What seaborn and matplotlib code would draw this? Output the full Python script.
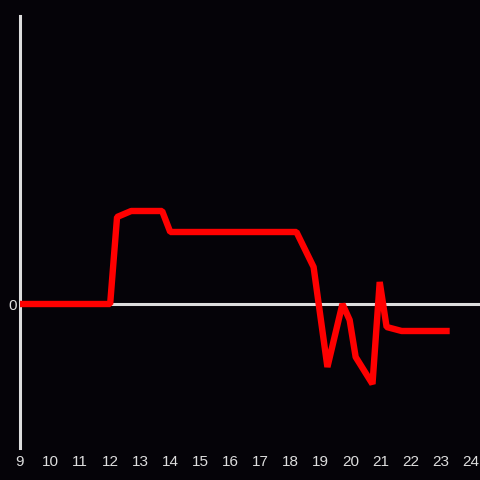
import matplotlib
matplotlib.use("Agg")
import matplotlib.pyplot as plt
import seaborn as sns

# values (x in hours, y in arbitrary units)
hours = [9.0, 12.0, 12.23, 12.7, 13.73, 14.0, 18.2, 18.77, 19.23, 19.73,
         19.97, 20.17, 20.73, 20.97, 21.2, 21.7, 23.3]
values = [0.0, 0.0, 0.87, 0.93, 0.93, 0.72, 0.72, 0.37, -0.63, 0.0,
          -0.16, -0.53, -0.80, 0.22, -0.23, -0.27, -0.27]
xticks = list(range(9, 25))

bg = "#050308"
axis_col = "#dddddd"

sns.set_style("dark")
plt.rcParams['font.family'] = ['Liberation Sans', 'DejaVu Sans']

fig = plt.figure(figsize=(4.8, 4.8), dpi=100, facecolor=bg)
ax = fig.add_axes([20/480, 1 - 448/480, 460/480, 432/480])
ax.set_facecolor(bg)

ax.axhline(0, color=axis_col, lw=2.2, zorder=1)
sns.lineplot(x=hours, y=values, color="#ff0000", linewidth=4.6, ax=ax, zorder=3)
for l in ax.lines[1:]:
    l.set_solid_joinstyle("bevel")
    l.set_solid_capstyle("butt")

ax.set_xlim(9, 9 + 460/30.05)
ax.set_ylim(-1.44, 2.88)
ax.set_xticks(xticks)
ax.set_yticks([0])
ax.tick_params(axis="both", length=0, colors=axis_col, labelsize=11)
ax.tick_params(axis="x", pad=5)
ax.tick_params(axis="y", pad=2)
ax.grid(False)

for s in ["top", "right", "bottom"]:
    ax.spines[s].set_visible(False)
ax.spines["left"].set_color(axis_col)
ax.spines["left"].set_linewidth(2.2)

fig.savefig("out.png", dpi=100, facecolor=bg)
